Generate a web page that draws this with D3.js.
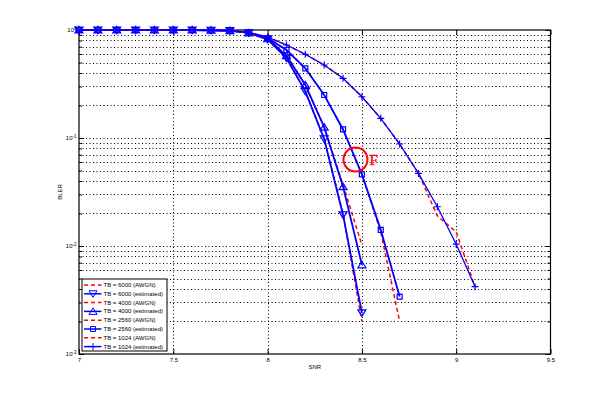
<!DOCTYPE html>
<html>
<head>
<meta charset="utf-8">
<script src="https://cdn.jsdelivr.net/npm/d3@7"></script>
<style>
  body { margin: 0; background: #fff; }
  text { font-family: "Liberation Sans", Arial, sans-serif; fill: #000; }
  text.fmark { font-family: "Liberation Serif", "Times New Roman", serif; font-size: 15px; fill: #ff0000; }
</style>
</head>
<body>
<svg id="chart" width="608" height="398"></svg>
<script>
// SNR grid (dB), one point every 0.1
const snr = [7.0, 7.1, 7.2, 7.3, 7.4, 7.5, 7.6, 7.7, 7.8, 7.9, 8.0,
             8.1, 8.2, 8.3, 8.4, 8.5, 8.6, 8.7, 8.8, 8.9, 9.0, 9.1]

// BLER
const bler6000Awgn = [1, 1, 1, 1, 1, 1, 1, 0.995, 0.985, 0.94, 0.82, 0.55, 0.27, 0.098, 0.0200, 0.0020]
const bler6000Est  = [1, 1, 1, 1, 1, 1, 1, 0.995, 0.985, 0.94, 0.82, 0.55, 0.27, 0.098, 0.0194, 0.0024]
const bler4000Awgn = [1, 1, 1, 1, 1, 1, 1, 0.995, 0.985, 0.94, 0.83, 0.58, 0.31, 0.126, 0.0370, 0.0102]
const bler4000Est  = [1, 1, 1, 1, 1, 1, 1, 0.995, 0.985, 0.94, 0.83, 0.58, 0.31, 0.126, 0.0354, 0.0067]
const bler2560Awgn = [1, 1, 1, 1, 1, 1, 1, 0.995, 0.985, 0.95, 0.84, 0.653, 0.442, 0.25, 0.12, 0.046, 0.0135, 0.0020]
const bler2560Est  = [1, 1, 1, 1, 1, 1, 1, 0.995, 0.985, 0.95, 0.84, 0.653, 0.442, 0.25, 0.12, 0.046, 0.0141, 0.0034]
const bler1024Awgn = [1, 1, 1, 1, 1, 1, 1, 0.995, 0.985, 0.95, 0.86, 0.726, 0.596, 0.474, 0.357, 0.241,
                      0.152, 0.088, 0.047, 0.0190, 0.0135, 0.0042]
const bler1024Est  = [1, 1, 1, 1, 1, 1, 1, 0.995, 0.985, 0.95, 0.86, 0.726, 0.596, 0.474, 0.357, 0.241,
                      0.152, 0.088, 0.047, 0.0231, 0.0104, 0.0042]

const legendLabels = [
  "TB = 6000 (AWGN)", "TB = 6000 (estimated)",
  "TB = 4000 (AWGN)", "TB = 4000 (estimated)",
  "TB = 2560 (AWGN)", "TB = 2560 (estimated)",
  "TB = 1024 (AWGN)", "TB = 1024 (estimated)"
]

const xTicks = [7, 7.5, 8, 8.5, 9, 9.5]
const xTickLabels = ["7", "7.5", "8", "8.5", "9", "9.5"]
const yDecades = [1, 0.1, 0.01, 0.001]
const yExponents = ["0", "-1", "-2", "-3"]

// annotation (marked point "F")
const markF = { snr: 8.466, bler: 0.0632, label: "F" }

const red = "#ff0000"
const blue = "#0000ff"

const series = [
  { values: bler6000Awgn, color: red, dash: "4,3", marker: null, width: 1.5 },
  { values: bler6000Est, color: blue, dash: null, marker: "down", width: 1.8 },
  { values: bler4000Awgn, color: red, dash: "4,3", marker: null, width: 1.5 },
  { values: bler4000Est, color: blue, dash: null, marker: "up", width: 1.8 },
  { values: bler2560Awgn, color: red, dash: "4,3", marker: null, width: 1.5 },
  { values: bler2560Est, color: blue, dash: null, marker: "square", width: 1.8 },
  { values: bler1024Awgn, color: red, dash: "4,3", marker: null, width: 1.5 },
  { values: bler1024Est, color: blue, dash: null, marker: "plus", width: 1.3 }
].map((s, i) => ({
  ...s,
  label: legendLabels[i],
  points: s.values.map((v, j) => [snr[j], v])
}))

const markerPaths = {
  down: "M-4,-3L4,-3L0,3.5Z",
  up: "M-4,3L4,3L0,-3.5Z",
  square: "M-2.5,-2.5H2.5V2.5H-2.5Z",
  plus: "M-3.5,0H3.5M0,-3.5V3.5"
}

const svg = d3.select("#chart")
const plotLeft = 79, plotRight = 550.5, plotTop = 30, plotBottom = 354

const x = d3.scaleLinear().domain([7, 9.5]).range([plotLeft, plotRight])
const y = d3.scaleLog().domain([0.001, 1]).range([plotBottom, plotTop])

svg.append("rect")
  .attr("width", 608).attr("height", 398)
  .attr("fill", "#fff")

// every log tick 1..9 per decade
const yAll = []
yDecades.slice(1).forEach(d => {
  for (let k = 1; k < 10; k++) yAll.push(d * k)
})
yAll.push(1)

// dotted grid
const grid = svg.append("g")
  .attr("stroke", "#000")
  .attr("stroke-width", 1)
  .attr("stroke-dasharray", "1,2.5")

grid.selectAll(".hgrid")
  .data(yAll.filter(v => v > 0.0011 && v < 0.99))
  .join("line")
  .attr("x1", plotLeft).attr("x2", plotRight)
  .attr("y1", d => Math.round(y(d)) + 0.5)
  .attr("y2", d => Math.round(y(d)) + 0.5)

grid.selectAll(".vgrid")
  .data(xTicks.slice(1, -1))
  .join("line")
  .attr("x1", d => Math.round(x(d)) + 0.5)
  .attr("x2", d => Math.round(x(d)) + 0.5)
  .attr("y1", plotTop).attr("y2", plotBottom)

// axes, ticks inward like matlab
const xAxis = svg.append("g")
  .attr("transform", `translate(0,${plotBottom})`)
  .call(d3.axisBottom(x).tickValues(xTicks)
    .tickFormat((d, i) => xTickLabels[i])
    .tickSize(-5).tickPadding(4))
xAxis.select(".domain").remove()
xAxis.selectAll("text").style("font-size", "6px")

const xAxisTop = svg.append("g")
  .attr("transform", `translate(0,${plotTop})`)
  .call(d3.axisTop(x).tickValues(xTicks).tickFormat("").tickSize(-5))
xAxisTop.select(".domain").remove()

const minorY = yAll.filter(v => !yDecades.some(d => Math.abs(d - v) < 1e-9))
;[[d3.axisLeft, plotLeft], [d3.axisRight, plotRight]].forEach(([axisFn, pos]) => {
  const major = svg.append("g")
    .attr("transform", `translate(${pos},0)`)
    .call(axisFn(y).tickValues(yDecades).tickFormat("").tickSize(-5))
  major.select(".domain").remove()
  const minor = svg.append("g")
    .attr("transform", `translate(${pos},0)`)
    .call(axisFn(y).tickValues(minorY).tickFormat("").tickSize(-3))
  minor.select(".domain").remove()
})

// y tick labels 10^n
const yLabel = svg.selectAll(".ylab")
  .data(yDecades)
  .join("text")
  .attr("class", "ylab")
  .attr("x", 76.5)
  .attr("y", d => y(d) + 2)
  .attr("text-anchor", "end")
  .style("font-size", "6px")
yLabel.append("tspan").text("10")
yLabel.append("tspan")
  .attr("dy", -2.5)
  .style("font-size", "4.5px")
  .text((d, i) => yExponents[i])

// box
svg.append("rect")
  .attr("x", plotLeft).attr("y", plotTop)
  .attr("width", plotRight - plotLeft).attr("height", plotBottom - plotTop)
  .attr("fill", "none")
  .attr("stroke", "#000")
  .attr("stroke-width", 1.2)

// curves
const line = d3.line()
  .x(d => x(d[0]))
  .y(d => y(d[1]))

series.forEach(s => {
  svg.append("path")
    .datum(s.points)
    .attr("d", line)
    .attr("fill", "none")
    .attr("stroke", s.color)
    .attr("stroke-width", s.width)
    .attr("stroke-dasharray", s.dash)

  if (s.marker) {
    svg.append("g")
      .selectAll("path")
      .data(s.points)
      .join("path")
      .attr("transform", d => `translate(${x(d[0])},${y(d[1])})`)
      .attr("d", markerPaths[s.marker])
      .attr("fill", "none")
      .attr("stroke", s.color)
      .attr("stroke-width", 1.2)
  }
})

// circled point F
svg.append("circle")
  .attr("cx", x(markF.snr))
  .attr("cy", y(markF.bler))
  .attr("r", 12)
  .attr("fill", "none")
  .attr("stroke", red)
  .attr("stroke-width", 2)

svg.append("text")
  .attr("class", "fmark")
  .attr("x", x(markF.snr) + 14)
  .attr("y", y(markF.bler) + 5)
  .attr("stroke", red)
  .attr("stroke-width", 0.4)
  .text(markF.label)

// axis titles
svg.append("text")
  .attr("x", (plotLeft + plotRight) / 2)
  .attr("y", 368.5)
  .attr("text-anchor", "middle")
  .style("font-size", "6px")
  .text("SNR")

svg.append("text")
  .attr("transform", "translate(62,192) rotate(-90)")
  .attr("text-anchor", "middle")
  .style("font-size", "6px")
  .text("BLER")

// legend
const legend = svg.append("g").attr("transform", "translate(82,279)")
const rowH = 8.8

legend.append("rect")
  .attr("width", 85).attr("height", 72)
  .attr("fill", "#fff")
  .attr("stroke", "#000")
  .attr("stroke-width", 1)

const rows = legend.selectAll(".row")
  .data(series)
  .join("g")
  .attr("class", "row")
  .attr("transform", (d, i) => `translate(0,${6 + i * rowH})`)

rows.append("line")
  .attr("x1", 2).attr("x2", 19.5)
  .attr("stroke", d => d.color)
  .attr("stroke-width", 1.5)
  .attr("stroke-dasharray", d => d.dash)

rows.filter(d => d.marker)
  .append("path")
  .attr("transform", "translate(11,0)")
  .attr("d", d => markerPaths[d.marker])
  .attr("fill", "none")
  .attr("stroke", d => d.color)

rows.append("text")
  .attr("x", 21.5)
  .attr("y", 2)
  .style("font-size", "6px")
  .text(d => d.label)
</script>
</body>
</html>
